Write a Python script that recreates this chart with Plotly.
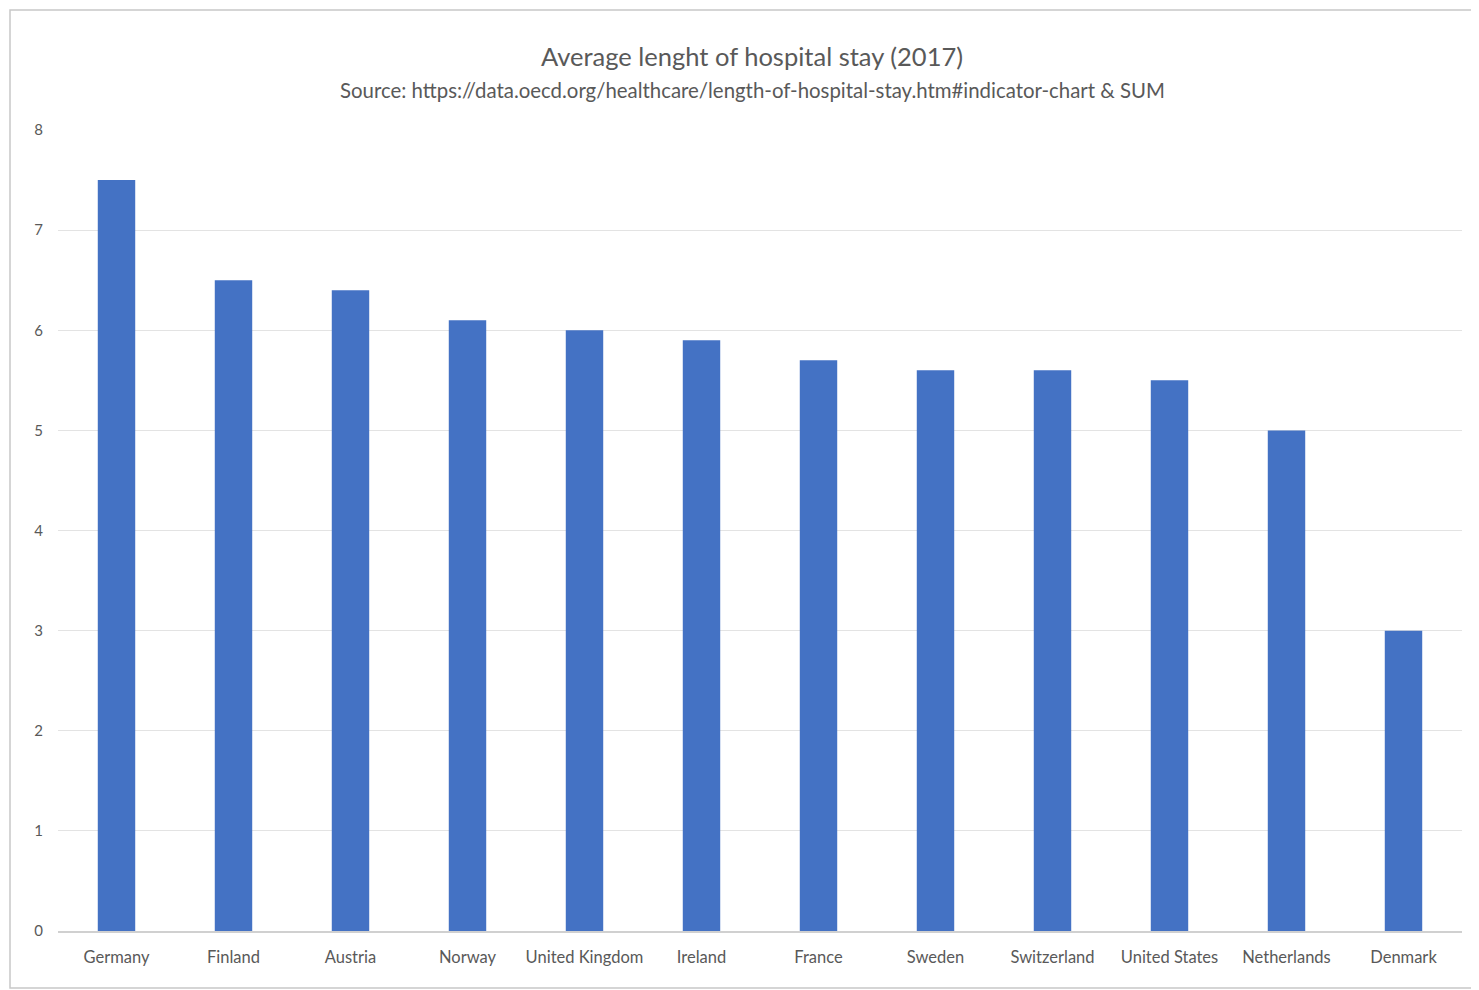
import plotly.graph_objects as go

countries = ["Germany", "Finland", "Austria", "Norway", "United Kingdom", "Ireland",
             "France", "Sweden", "Switzerland", "United States", "Netherlands", "Denmark"]
avg_stay = [7.5, 6.5, 6.4, 6.1, 6.0, 5.9, 5.7, 5.6, 5.6, 5.5, 5.0, 3.0]
y_ticks = [0, 1, 2, 3, 4, 5, 6, 7, 8]

title_text = "Average lenght of hospital stay (2017)"
subtitle_text = "Source: https://data.oecd.org/healthcare/length-of-hospital-stay.htm#indicator-chart & SUM"

FONT = "Lato, 'Open Sans', sans-serif"
GRAY = "#595959"

fig = go.Figure(go.Bar(x=countries, y=avg_stay, marker_color="#4472C4",
                       marker_line_width=0))

OFF = 8  # page body margin
W, H = 1479 - OFF, 990 - OFF
# target plot area in page pixels: x 58..1462, y 130..931
L, T = 58 - OFF, 130 - OFF
R = W - (1462 - OFF)
B = H - (931 - OFF)
pw, ph = W - L - R, H - T - B

def px(x):
    return (x - OFF - L) / pw

def py(y):
    return (H - B - (y - OFF)) / ph

fig.update_layout(
    width=W, height=H,
    margin=dict(l=L, r=R, t=T, b=B),
    paper_bgcolor="white", plot_bgcolor="white",
    bargap=0.68,
    showlegend=False,
    font=dict(family=FONT, color=GRAY),
    xaxis=dict(showgrid=False, showline=True, linecolor="#d0d0d0", linewidth=1.5,
               ticks="", tickfont=dict(size=16.5, color=GRAY), ticklabelstandoff=10),
    yaxis=dict(range=[0, 8], tickvals=y_ticks, showgrid=True, gridcolor="#e3e3e3",
               gridwidth=1.2, zeroline=False, showline=False, ticks="",
               tickfont=dict(size=15, color=GRAY), ticklabelstandoff=14),
    annotations=[
        dict(text=title_text, x=px(752), y=py(56), xref="paper", yref="paper",
             xanchor="center", yanchor="middle",
             showarrow=False, font=dict(size=25.5, color=GRAY, family=FONT)),
        dict(text=subtitle_text, x=px(752), y=py(90), xref="paper", yref="paper",
             xanchor="center", yanchor="middle",
             showarrow=False, font=dict(size=20.4, color=GRAY, family=FONT)),
    ],
    shapes=[
        dict(type="rect", xref="paper", yref="paper",
             x0=px(10), x1=px(1495), y0=py(988), y1=py(10),
             line=dict(color="#c8c8c8", width=1.5), fillcolor="rgba(0,0,0,0)",
             layer="below"),
    ],
)

fig.write_html("out.html")
